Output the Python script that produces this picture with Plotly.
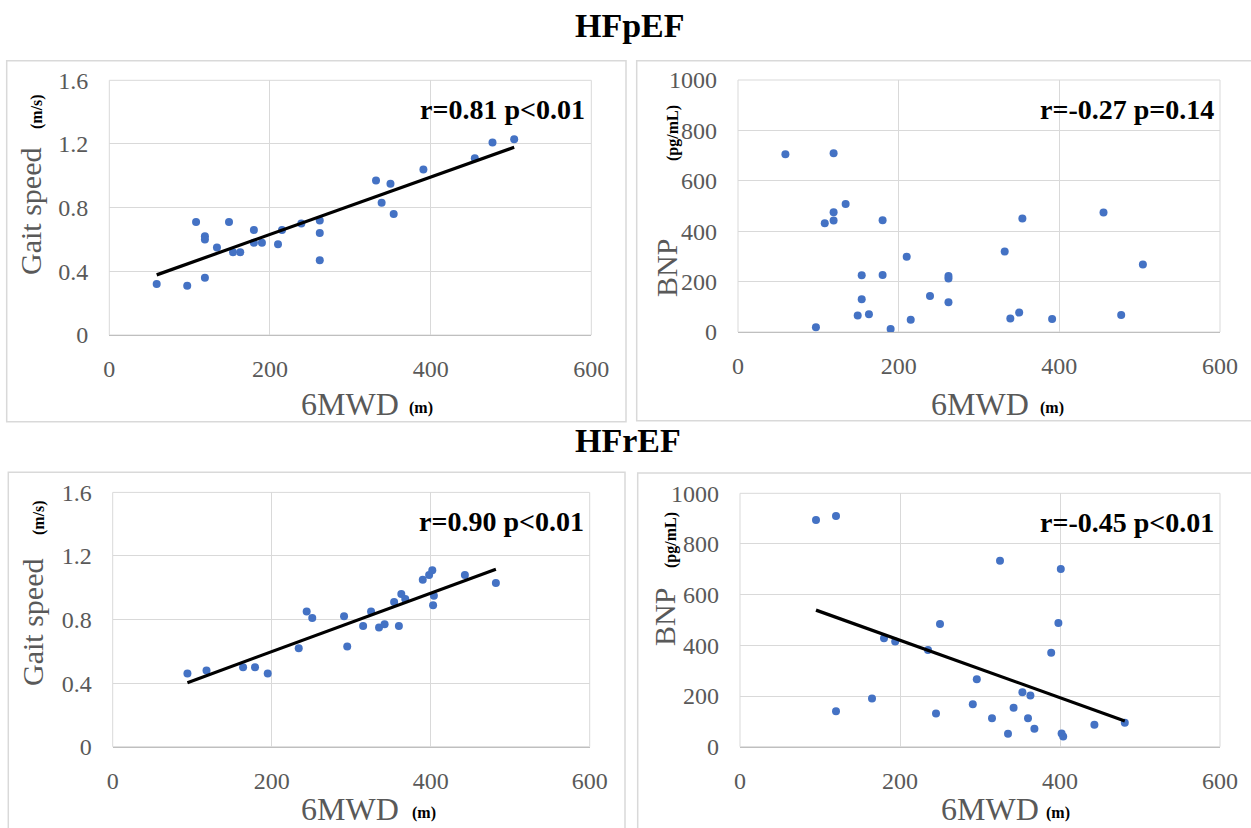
import numpy as np
import plotly.graph_objects as go

# ---------------- data ----------------
hfp_6mwd_gait = [59, 97, 119, 108, 119, 119, 134, 149, 154, 163, 180, 180, 190, 210, 215, 239, 262, 262, 262, 332, 350, 339, 354, 391, 455, 477, 504]
hfp_gait = [0.32, 0.31, 0.36, 0.71, 0.62, 0.60, 0.55, 0.71, 0.52, 0.52, 0.66, 0.58, 0.58, 0.57, 0.66, 0.70, 0.72, 0.64, 0.47, 0.97, 0.95, 0.83, 0.76, 1.04, 1.11, 1.21, 1.23]

hfp_6mwd_bnp = [59, 119, 134, 119, 119, 108, 180, 210, 154, 180, 262, 262, 154, 239, 262, 149, 163, 97, 190, 215, 332, 354, 339, 350, 391, 455, 477, 504]
hfp_bnp = [705, 709, 508, 475, 442, 432, 443, 299, 225, 226, 222, 212, 130, 143, 118, 65, 70, 19, 12, 49, 319, 450, 54, 77, 52, 474, 67, 268]

hfr_6mwd_gait = [94, 118, 164, 179, 195, 234, 244, 251, 291, 295, 315, 325, 335, 342, 354, 360, 363, 368, 390, 398, 402, 404, 403, 443, 482]
hfr_gait = [0.46, 0.48, 0.50, 0.50, 0.46, 0.62, 0.85, 0.81, 0.82, 0.63, 0.76, 0.85, 0.75, 0.77, 0.91, 0.76, 0.96, 0.93, 1.05, 1.08, 1.11, 0.95, 0.89, 1.08, 1.03]

hfr_6mwd_bnp = [95, 120, 325, 401, 250, 398, 180, 194, 235, 389, 296, 353, 363, 165, 120, 245, 291, 342, 315, 360, 368, 335, 402, 404, 443, 481]
hfr_bnp = [895, 910, 734, 701, 484, 488, 428, 415, 382, 371, 266, 215, 202, 190, 140, 131, 168, 154, 112, 112, 71, 51, 52, 40, 87, 95]

stats = ["r=0.81 p<0.01", "r=-0.27 p=0.14", "r=0.90 p<0.01", "r=-0.45 p<0.01"]
group_titles = ["HFpEF", "HFrEF"]
x_ticks = [0, 200, 400, 600]
gait_ticks = [0, 0.4, 0.8, 1.2, 1.6]
bnp_ticks = [0, 200, 400, 600, 800, 1000]

# ---------------- layout helpers ----------------
W, H = 1251, 828
FONT = "Liberation Serif, Times New Roman, serif"
GRAY = "#595959"
BLUE = "#4472C4"

def px(x):
    return x / W

def py(y):
    return 1 - y / H

panels = [
    dict(x=hfp_6mwd_gait, y=hfp_gait, trend=True, dom_x=(109.3, 591.3), dom_y=(80.3, 335), yr=[0, 1.6], yt=gait_ticks, ylab="Gait speed", yunit="(m/s)"),
    dict(x=hfp_6mwd_bnp, y=hfp_bnp, trend=False, dom_x=(738, 1220), dom_y=(80, 332), yr=[0, 1000], yt=bnp_ticks, ylab="BNP", yunit="(pg/mL)"),
    dict(x=hfr_6mwd_gait, y=hfr_gait, trend=True, dom_x=(112.7, 589.7), dom_y=(492.4, 746.7), yr=[0, 1.6], yt=gait_ticks, ylab="Gait speed", yunit="(m/s)"),
    dict(x=hfr_6mwd_bnp, y=hfr_bnp, trend=True, dom_x=(740, 1220), dom_y=(493.3, 746.7), yr=[0, 1000], yt=bnp_ticks, ylab="BNP", yunit="(pg/mL)"),
]

fig = go.Figure()
layout = dict(
    width=W, height=H, margin=dict(l=0, r=0, t=0, b=0, autoexpand=False),
    paper_bgcolor="white", plot_bgcolor="white", showlegend=False,
    font=dict(family=FONT, color=GRAY),
)
shapes = []
annotations = []

for i, p in enumerate(panels):
    n = "" if i == 0 else str(i + 1)
    xa, ya = "x" + n, "y" + n
    fig.add_trace(go.Scatter(
        x=p["x"], y=p["y"], mode="markers", xaxis=xa, yaxis=ya,
        marker=dict(color=BLUE, size=8), cliponaxis=False))
    if p["trend"]:
        k, b = np.polyfit(p["x"], p["y"], 1)
        xs = np.array([min(p["x"]), max(p["x"])])
        fig.add_trace(go.Scatter(
            x=xs, y=k * xs + b, mode="lines", xaxis=xa, yaxis=ya,
            line=dict(color="black", width=3.2)))
    layout["xaxis" + n] = dict(
        domain=[px(p["dom_x"][0]), px(p["dom_x"][1])], anchor=ya,
        range=[0, 600], tickvals=x_ticks, showgrid=True, gridcolor="#d9d9d9",
        zeroline=False, showline=True, linecolor="#bfbfbf", linewidth=1,
        ticks="", ticklabelstandoff=12, automargin=False,
        tickfont=dict(family=FONT, size=24, color=GRAY))
    layout["yaxis" + n] = dict(
        domain=[py(p["dom_y"][1]), py(p["dom_y"][0])], anchor=xa,
        range=p["yr"], tickvals=p["yt"], showgrid=True, gridcolor="#d9d9d9",
        zeroline=False, showline=False, ticks="", ticklabelstandoff=20, automargin=False,
        tickfont=dict(family=FONT, size=24, color=GRAY))
    # plot-area border
    shapes.append(dict(type="rect", xref=xa + " domain", yref=ya + " domain",
                       x0=0, x1=1, y0=0, y1=1, line=dict(color="#d9d9d9", width=1),
                       layer="below"))
    # stats text
    annotations.append(dict(
        text="<b>" + stats[i] + "</b>", xref="paper", yref="paper",
        x=px(p["dom_x"][1] - 4), y=py(p["dom_y"][0] + 29), xanchor="right", yanchor="middle",
        showarrow=False, font=dict(family=FONT, size=28, color="black")))

# chart-area boxes
boxes = [(6.7, 60.7, 626, 421.7), (636.7, 60.7, 1256, 420.7),
         (8.3, 472.3, 625, 835), (637.7, 473, 1256, 835)]
for (x0, y0, x1, y1) in boxes:
    shapes.append(dict(type="rect", xref="paper", yref="paper",
                       x0=px(x0), x1=px(x1), y0=py(y1), y1=py(y0),
                       line=dict(color="#d9d9d9", width=1.5), layer="below"))

# axis titles: main label (gray) and unit (small bold black) as separate texts
ylab_pos = [(30, 212), (666, 268), (32, 623), (664, 617)]
yunit_pos = [(37, 112), (673, 133), (39, 518), (671, 540)]
xlab_pos = [(350, 404), (980, 404), (350, 809), (990, 809)]
xunit_pos = [(421, 408), (1052, 408), (424, 813), (1058, 813)]
for i, p in enumerate(panels):
    annotations.append(dict(
        text=p["ylab"], xref="paper", yref="paper",
        x=px(ylab_pos[i][0]), y=py(ylab_pos[i][1]), textangle=-90,
        xanchor="center", yanchor="middle", showarrow=False, borderpad=0,
        font=dict(family=FONT, size=30, color=GRAY)))
    annotations.append(dict(
        text="<b>" + p["yunit"] + "</b>", xref="paper", yref="paper",
        x=px(yunit_pos[i][0]), y=py(yunit_pos[i][1]), textangle=-90,
        xanchor="center", yanchor="middle", showarrow=False, borderpad=0,
        font=dict(family=FONT, size=16, color="black")))
    annotations.append(dict(
        text="6MWD", xref="paper", yref="paper",
        x=px(xlab_pos[i][0]), y=py(xlab_pos[i][1]),
        xanchor="center", yanchor="middle", showarrow=False, borderpad=0,
        font=dict(family=FONT, size=32, color=GRAY)))
    annotations.append(dict(
        text="<b>(m)</b>", xref="paper", yref="paper",
        x=px(xunit_pos[i][0]), y=py(xunit_pos[i][1]),
        xanchor="center", yanchor="middle", showarrow=False, borderpad=0,
        font=dict(family=FONT, size=16, color="black")))

# group titles
for t, (cx, cy) in zip(group_titles, [(630, 25), (628, 440)]):
    annotations.append(dict(
        text="<b>" + t + "</b>", xref="paper", yref="paper", x=px(cx), y=py(cy),
        xanchor="center", yanchor="middle", showarrow=False,
        font=dict(family=FONT, size=34, color="black")))

layout["shapes"] = shapes
layout["annotations"] = annotations
fig.update_layout(**layout)
fig.write_html("out.html", config={"displayModeBar": False},
               post_script="document.body.style.margin='0';document.body.style.overflow='hidden';")
